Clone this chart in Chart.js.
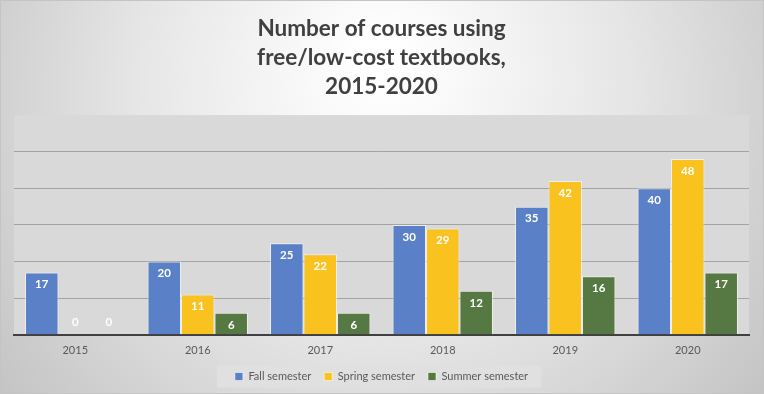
<!DOCTYPE html>
<html><head><meta charset="utf-8">
<script src="https://cdn.jsdelivr.net/npm/chart.js@4"></script>
<style>html,body{margin:0;padding:0;background:#fff}#wrap{width:764px;height:394px}</style>
</head><body><div id="wrap"><canvas id="c" width="764" height="394"></canvas></div>
<script>
const years = ['2015','2016','2017','2018','2019','2020'];
const fallValues = [17, 20, 25, 30, 35, 40];
const springValues = [0, 11, 22, 29, 42, 48];
const summerValues = [0, 6, 6, 12, 16, 17];
const seriesNames = ['Fall semester','Spring semester','Summer semester'];
const titleLines = ['Number of courses using','free/low-cost textbooks,','2015-2020'];

const bgPlugin = {
  id: 'bg',
  beforeDraw(chart) {
    const {ctx, width, height, chartArea} = chart;
    ctx.save();
    const g = ctx.createRadialGradient(width/2, 60, 20, width/2, 120, 520);
    g.addColorStop(0, '#ffffff');
    g.addColorStop(0.45, '#e6e6e6');
    g.addColorStop(1, '#bdbdbd');
    ctx.fillStyle = g;
    ctx.fillRect(0, 0, width, height);
    ctx.strokeStyle = '#c4c4c4';
    ctx.lineWidth = 1;
    ctx.strokeRect(0.5, 0.5, width-1, height-1);
    ctx.fillStyle = '#d9d9d9';
    ctx.fillRect(chartArea.left, chartArea.top, chartArea.right-chartArea.left, chartArea.bottom-chartArea.top);
    const lg = chart.legend;
    if (lg && lg.legendHitBoxes && lg.legendHitBoxes.length) {
      const hb = lg.legendHitBoxes;
      const last = hb[hb.length-1];
      const cy = hb[0].top + hb[0].height/2;
      const x0 = hb[0].left - 18, x1 = last.left + last.width + 13;
      ctx.fillStyle = '#e0e0e0';
      ctx.fillRect(x0, cy - 11, x1-x0, 22);
    }
    ctx.restore();
  }
};

const labelPlugin = {
  id: 'vlabels',
  afterDatasetsDraw(chart) {
    const ctx = chart.ctx;
    ctx.save();
    ctx.font = 'bold 11.5px Lato';
    ctx.fillStyle = '#ffffff';
    ctx.textAlign = 'center';
    ctx.textBaseline = 'middle';
    chart.data.datasets.forEach((ds, i) => {
      const meta = chart.getDatasetMeta(i);
      meta.data.forEach((el, j) => {
        const v = ds.data[j];
        const y = v > 0 ? el.y + 12 : el.base - 13;
        ctx.fillText(String(v), el.x, y);
      });
    });
    ctx.restore();
  }
};

const border = 'rgba(255,255,255,0.55)';
new Chart(document.getElementById('c'), {
  type: 'bar',
  data: {
    labels: years,
    datasets: [
      {label: seriesNames[0], data: fallValues, backgroundColor: '#5a80c8', borderColor: border, borderWidth: 1},
      {label: seriesNames[1], data: springValues, backgroundColor: '#f9c21f', borderColor: border, borderWidth: 1},
      {label: seriesNames[2], data: summerValues, backgroundColor: '#567944', borderColor: border, borderWidth: 1}
    ]
  },
  options: {
    responsive: false,
    animation: false,
    devicePixelRatio: 1,
    layout: {padding: {left: 14, right: 15, top: 0, bottom: 2}},
    datasets: {bar: {categoryPercentage: 0.82, barPercentage: 1.0}},
    scales: {
      x: {
        grid: {display: false},
        border: {display: true, color: '#404040', width: 2},
        ticks: {color: '#595959', font: {size: 11, family: 'Lato'}, padding: 1}
      },
      y: {
        min: 0, max: 60,
        ticks: {display: false, stepSize: 10},
        grid: {color: (c) => c.tick && c.tick.value === 60 ? 'rgba(0,0,0,0)' : '#a3a3a3', drawTicks: false, lineWidth: 1},
        border: {display: false}
      }
    },
    plugins: {
      title: {
        display: true,
        text: titleLines,
        color: '#404040',
        font: {size: 22.5, weight: 'bold', family: 'Lato', lineHeight: 1.29},
        padding: {top: 14, bottom: 14}
      },
      legend: {
        position: 'bottom',
        labels: {color: '#595959', font: {size: 11, family: 'Lato'}, boxWidth: 8, boxHeight: 8, padding: 13, useBorderRadius: false}
      },
      tooltip: {enabled: false}
    }
  },
  plugins: [bgPlugin, labelPlugin]
});
</script></body></html>
